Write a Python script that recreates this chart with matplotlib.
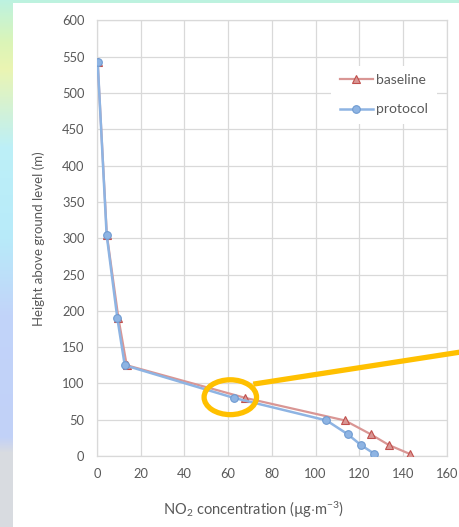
import matplotlib.pyplot as plt
import numpy as np
from matplotlib.patches import Ellipse, Rectangle
from matplotlib.lines import Line2D

plt.rcParams['font.family'] = ['Lato', 'DejaVu Sans']
plt.rcParams['mathtext.fontset'] = 'custom'
plt.rcParams['mathtext.rm'] = 'Lato'
plt.rcParams['mathtext.it'] = 'Lato:italic'

# NO2 vertical profiles
height = [543, 305, 190, 125, 80, 49, 30, 15, 3]
baseline = [0.3, 4.5, 9.8, 13.6, 67.9, 113.4, 125.2, 133.6, 143.0]
protocol = [0.3, 4.4, 9.3, 12.7, 62.7, 105.0, 114.7, 120.8, 126.9]

x_ticks = [0, 20, 40, 60, 80, 100, 120, 140, 160]
y_ticks = [0, 50, 100, 150, 200, 250, 300, 350, 400, 450, 500, 550, 600]

txt = '#595959'
grid = '#D9D9D9'

fig = plt.figure(figsize=(4.59, 5.27), dpi=100)

# slide background behind the chart panel
bg = fig.add_axes([0, 0, 1, 1], zorder=0)
stops = np.array([
    [0.74, 0.95, 0.88],
    [0.86, 0.96, 0.72],
    [0.92, 0.96, 0.70],
    [0.74, 0.94, 0.97],
    [0.72, 0.92, 0.98],
    [0.76, 0.83, 0.98],
    [0.76, 0.82, 0.97],
    [0.85, 0.86, 0.88],
    [0.85, 0.86, 0.88],
])
pos = np.array([0, 0.08, 0.13, 0.28, 0.45, 0.60, 0.83, 0.86, 1.0])
yy = np.linspace(0, 1, 527)
col = np.stack([np.interp(yy, pos, stops[:, i]) for i in range(3)], axis=1)
bg.imshow(col[:, None, :], aspect='auto', extent=[0, 1, 0, 1], origin='upper')
bg.add_patch(Rectangle((13 / 459, 0), 1, (527 - 3) / 527, color='white', lw=0))
bg.set_xlim(0, 1)
bg.set_ylim(0, 1)
bg.axis('off')

ax = fig.add_axes([97 / 459, 71 / 527, 349.7 / 459, 435.5 / 527], zorder=1)
ax.patch.set_alpha(0)

ax.plot(baseline, height, color='#D99694', lw=1.6, marker='^', ms=5.5,
        mfc='#D99694', mec='#C0504D', mew=0.8, label='baseline', zorder=3)
ax.plot(protocol, height, color='#8EB4E3', lw=1.8, marker='o', ms=5.5,
        mfc='#8EB4E3', mec='#6F9BD1', mew=0.8, label='protocol', zorder=4)

ax.set_xlim(0, 160)
ax.set_ylim(0, 600)
ax.set_xticks(x_ticks)
ax.set_yticks(y_ticks)
ax.grid(True, color=grid, lw=0.9)
ax.set_axisbelow(True)
for s in ax.spines.values():
    s.set_color(grid)
    s.set_linewidth(0.9)
ax.tick_params(length=0, labelsize=9.3, labelcolor=txt, pad=9)

ax.set_xlabel(r'NO$_2$ concentration (µg$\cdot$m$^{-3}$)', fontsize=10.5, color=txt)
ax.xaxis.set_label_coords(0.447, -0.10)
ax.set_ylabel('Height above ground level (m)', fontsize=9.5, color=txt, labelpad=12)

leg = ax.legend(loc='upper left', bbox_to_anchor=(0.65, 0.912), frameon=True,
                fontsize=10, handlelength=2.4, handletextpad=0.25,
                labelspacing=1.25, borderpad=0.6)
leg.get_frame().set_facecolor('white')
leg.get_frame().set_edgecolor('none')
leg.get_frame().set_alpha(1)
for t in leg.get_texts():
    t.set_color(txt)

# highlight ring and pointer line
ax.add_patch(Ellipse((61, 81), 24, 48, fill=False, ec='#FFC000', lw=3.8,
                     zorder=6, clip_on=False))
ax.add_line(Line2D([71.5, 168], [99, 144], color='#FFC000', lw=3.8,
                   zorder=6, clip_on=False, solid_capstyle='butt'))

fig.savefig('out.png', dpi=100)
